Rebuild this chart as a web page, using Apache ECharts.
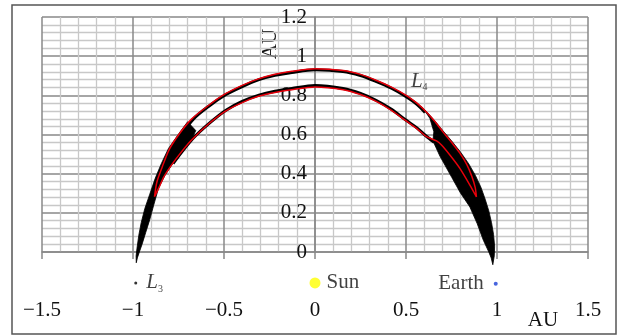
<!DOCTYPE html>
<html>
<head>
<meta charset="utf-8">
<script src="https://cdn.jsdelivr.net/npm/echarts@6/dist/echarts.min.js"></script>
<style>
  html, body { margin: 0; padding: 0; background: #fff; }
  #chart { width: 618px; height: 336px; }
</style>
</head>
<body>
<div id="chart"></div>
<script>
const FONT = '"Liberation Serif", "Times New Roman", serif';

// axis ranges
const xRange = [-1.5, 1.5];
const yRange = [0, 1.2];

// black band of the outer arc (centre line), left to right
const outerBand = [
  [-0.79, 0.53], [-0.67, 0.677], [-0.58, 0.747], [-0.489, 0.804], [-0.40, 0.845],
  [-0.308, 0.88], [-0.22, 0.902], [-0.127, 0.917], [0, 0.931], [0.154, 0.922],
  [0.25, 0.901], [0.335, 0.871], [0.42, 0.836], [0.497, 0.795], [0.56, 0.754], [0.605, 0.712]
];

// black band of the inner arc (centre line), left to right
const innerBand = [
  [-0.78, 0.452], [-0.671, 0.579], [-0.58, 0.658], [-0.489, 0.724], [-0.40, 0.769],
  [-0.308, 0.801], [-0.22, 0.821], [-0.127, 0.835], [0, 0.850], [0.154, 0.835],
  [0.25, 0.810], [0.335, 0.775], [0.42, 0.729], [0.497, 0.675], [0.56, 0.634],
  [0.607, 0.595], [0.655, 0.56]
];

// filled black region near L3
const leftFill = [
  [-0.70, 0.665], [-0.74, 0.615], [-0.805, 0.529], [-0.845, 0.45], [-0.878, 0.376],
  [-0.908, 0.295], [-0.935, 0.222], [-0.955, 0.15], [-0.968, 0.086], [-0.978, 0.02],
  [-0.983, -0.02], [-0.982, -0.055],
  [-0.976, -0.03], [-0.965, 0.0], [-0.95, 0.04], [-0.93, 0.10], [-0.908, 0.165],
  [-0.886, 0.24], [-0.86, 0.325], [-0.825, 0.39], [-0.787, 0.444], [-0.73, 0.51],
  [-0.68, 0.57], [-0.655, 0.62]
];

// filled black region near the Earth end
const rightFill = [
  [0.58, 0.745], [0.613, 0.717], [0.66, 0.668], [0.704, 0.618], [0.75, 0.568],
  [0.80, 0.51], [0.845, 0.45], [0.882, 0.39], [0.912, 0.33], [0.935, 0.27],
  [0.955, 0.21], [0.97, 0.15], [0.981, 0.09], [0.987, 0.03], [0.985, -0.02],
  [0.977, -0.065],
  [0.968, -0.03], [0.955, 0.0], [0.925, 0.06], [0.891, 0.145], [0.851, 0.23],
  [0.80, 0.30], [0.752, 0.38], [0.716, 0.44], [0.686, 0.49], [0.664, 0.535],
  [0.648, 0.568], [0.653, 0.614], [0.631, 0.683], [0.60, 0.725]
];

// red horseshoe loop
const redLoop = [
  [-0.882, 0.282], [-0.868, 0.36], [-0.835, 0.445], [-0.80, 0.525], [-0.74, 0.61],
  [-0.677, 0.68], [-0.58, 0.752], [-0.494, 0.807], [-0.40, 0.851], [-0.311, 0.884],
  [-0.22, 0.908], [-0.128, 0.923], [0, 0.936], [0.155, 0.927], [0.25, 0.907],
  [0.339, 0.876], [0.42, 0.842], [0.503, 0.799], [0.56, 0.76], [0.613, 0.714],
  [0.66, 0.665], [0.704, 0.612], [0.75, 0.56], [0.796, 0.505], [0.835, 0.445],
  [0.862, 0.385], [0.88, 0.33], [0.887, 0.282],
  [0.851, 0.342], [0.796, 0.427], [0.741, 0.495], [0.695, 0.546], [0.668, 0.567],
  [0.613, 0.589], [0.56, 0.63], [0.503, 0.668], [0.42, 0.723], [0.339, 0.768],
  [0.25, 0.804], [0.155, 0.829], [0, 0.843], [-0.128, 0.829], [-0.22, 0.815],
  [-0.311, 0.795], [-0.40, 0.763], [-0.494, 0.718], [-0.59, 0.65], [-0.677, 0.573],
  [-0.735, 0.51], [-0.787, 0.446], [-0.83, 0.385], [-0.857, 0.33], [-0.882, 0.282]
];

// bodies below the plot
const bodyNames = ['Sun', 'Earth', 'L3'];
const bodyX = [0, 0.993, -0.985];
const bodyY = [-0.158, -0.162, -0.158];
const l4Label = [0.527, 0.869];

const GRID_LEFT = 42, GRID_WIDTH = 546;
// put the y axis on x = 0
const yAxisOffset = -GRID_WIDTH * (0 - xRange[0]) / (xRange[1] - xRange[0]);

const chart = echarts.init(document.getElementById('chart'));

const polygonSeries = (pts) => ({
  type: 'custom',
  clip: false,
  silent: true,
  z: 3,
  data: [[0, 0]],
  renderItem: (params, api) => ({
    type: 'polygon',
    shape: { points: pts.map(p => api.coord(p)) },
    style: { fill: '#000', stroke: '#000', lineWidth: 0.8 }
  })
});

const subLabel = {
  i: { fontFamily: FONT, fontStyle: 'italic', fontSize: 21, color: '#111', verticalAlign: 'bottom', padding: [0, 0, 1, 0] },
  s: { fontFamily: FONT, fontSize: 10, color: '#111', verticalAlign: 'bottom', lineHeight: 10 }
};

const option = {
  animation: false,
  backgroundColor: '#fff',
  grid: { left: GRID_LEFT, top: 17, width: GRID_WIDTH, height: 235 },
  xAxis: {
    type: 'value',
    min: xRange[0], max: xRange[1], interval: 0.5,
    axisLine: { show: true, onZero: false, lineStyle: { color: '#888', width: 1.5 } },
    axisTick: { show: true, length: 7, lineStyle: { color: '#888', width: 1.5 } },
    axisLabel: {
      margin: 48, fontFamily: FONT, fontSize: 21, color: '#111',
      formatter: v => (v < 0 ? '\u2212' + Math.abs(v) : String(v))
    },
    splitLine: { show: true, lineStyle: { color: '#888', width: 1.5 } },
    minorTick: { show: false, splitNumber: 5 },
    minorSplitLine: { show: true, lineStyle: { color: '#c8c8c8', width: 1.3 } }
  },
  yAxis: {
    type: 'value',
    position: 'left',
    offset: yAxisOffset,
    min: yRange[0], max: yRange[1], interval: 0.2,
    axisLine: { show: true, onZero: false, lineStyle: { color: '#888', width: 1.5 } },
    axisTick: { show: false },
    axisLabel: { margin: 8, fontFamily: FONT, fontSize: 21, color: '#111' },
    splitLine: { show: true, lineStyle: { color: '#888', width: 1.5 } },
    minorTick: { show: false, splitNumber: 5 },
    minorSplitLine: { show: true, lineStyle: { color: '#c8c8c8', width: 1.3 } }
  },
  graphic: [
    { type: 'rect', z: -10, shape: { x: 12, y: 5, width: 604, height: 329 },
      style: { fill: 'none', stroke: '#555', lineWidth: 1.5 } },
    { type: 'text', x: 543, y: 320,
      style: { text: 'AU', font: '21px ' + FONT, fill: '#111', align: 'center', verticalAlign: 'middle', textAlign: 'center', textVerticalAlign: 'middle' } },
    { type: 'text', x: 270.5, y: 44, rotation: Math.PI / 2,
      style: { text: 'AU', font: '21px ' + FONT, fill: '#111', align: 'center', verticalAlign: 'middle', textAlign: 'center', textVerticalAlign: 'middle' } }
  ],
  series: [
    polygonSeries(leftFill),
    polygonSeries(rightFill),
    {
      type: 'line', data: outerBand, smooth: 0.3, showSymbol: false, clip: false, z: 3,
      lineStyle: { color: '#000', width: 3 }
    },
    {
      type: 'line', data: innerBand, smooth: 0.3, showSymbol: false, clip: false, z: 3,
      lineStyle: { color: '#000', width: 3 }
    },
    {
      type: 'line', data: redLoop, smooth: 0.25, showSymbol: false, clip: false, z: 4,
      lineStyle: { color: '#e8000b', width: 1.5 }
    },
    {
      type: 'scatter', clip: false, z: 5,
      data: [
        { value: [bodyX[0], bodyY[0]], symbolSize: 11, itemStyle: { color: '#ffff00' },
          label: { show: true, position: 'right', distance: 6, formatter: bodyNames[0], fontFamily: FONT, fontSize: 21, color: '#111' } },
        { value: [bodyX[1], bodyY[1]], symbolSize: 4, itemStyle: { color: '#1a3fd6' },
          label: { show: true, position: 'left', distance: 10, formatter: bodyNames[1], fontFamily: FONT, fontSize: 21, color: '#111' } },
        { value: [bodyX[2], bodyY[2]], symbolSize: 3, itemStyle: { color: '#000' },
          label: { show: true, position: 'right', distance: 9, formatter: '{i|L}{s|3}', rich: subLabel } },
        { value: l4Label, symbolSize: 0, itemStyle: { color: 'transparent' },
          label: { show: true, position: 'right', distance: 0, formatter: '{i|L}{s|4}', rich: subLabel } }
      ]
    }
  ]
};

chart.setOption(option);
</script>
</body>
</html>
